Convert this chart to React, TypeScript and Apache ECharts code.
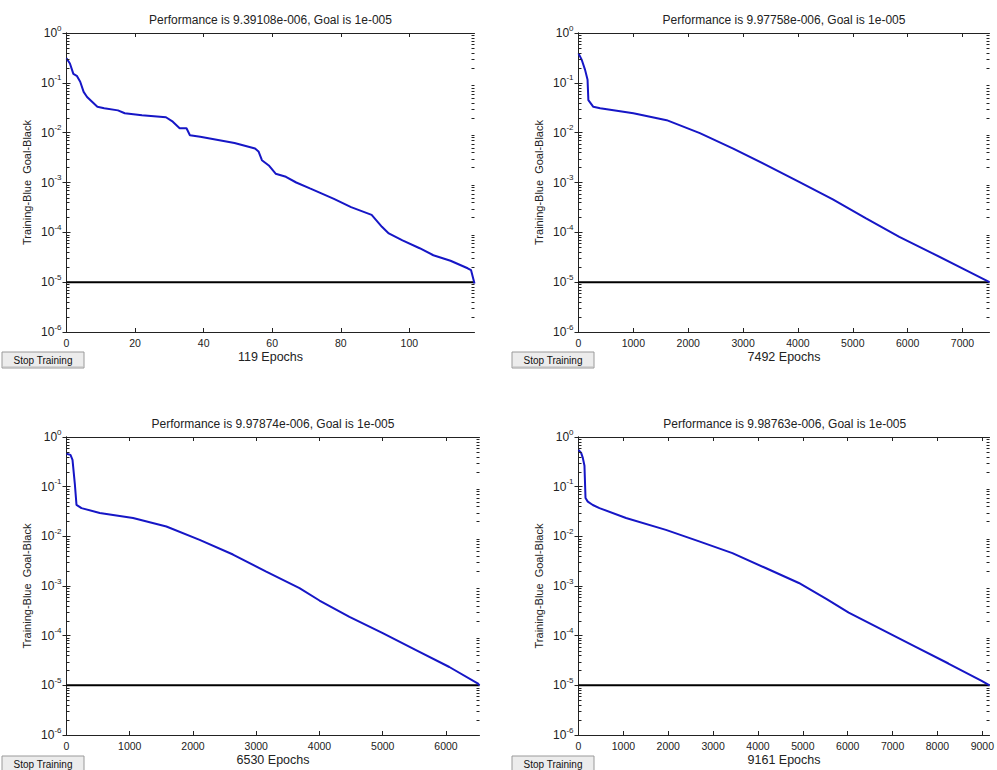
import React, { useEffect, useRef } from "react";
import * as echarts from "echarts";

// ---- data ----
const epochs1 = [0, 1, 2, 3, 4, 5, 6, 9, 11, 15, 17, 22, 29, 31, 33, 35, 36, 39, 49, 55, 56, 57, 59, 61, 64, 67, 71, 74, 78, 83, 89, 92, 94, 98, 103, 107, 112, 117, 118, 119];
const perf1 = [0.31, 0.245, 0.151, 0.138, 0.105, 0.066, 0.052, 0.033, 0.031, 0.028, 0.0245, 0.0224, 0.0204, 0.0166, 0.0123, 0.0123, 0.0089, 0.0083, 0.0062, 0.0048, 0.0042, 0.0028, 0.0022, 0.0015, 0.0013, 0.001, 0.00076, 0.00062, 0.00047, 0.00032, 0.000224, 0.000129, 0.000095, 0.000069, 0.000048, 0.0000347, 0.0000269, 0.000019, 0.0000174, 9.39108e-6];

const epochs2 = [0, 60, 120, 165, 180, 270, 395, 1000, 1607, 2212, 2820, 3425, 4030, 4636, 5242, 5848, 6454, 7060, 7492];
const perf2 = [0.39, 0.288, 0.182, 0.115, 0.045, 0.033, 0.031, 0.0245, 0.0178, 0.0098, 0.0048, 0.00224, 0.00102, 0.000457, 0.00019, 0.0000813, 0.000038, 0.0000174, 9.97758e-6];

const epochs3 = [0, 63, 95, 131, 158, 237, 526, 1052, 1579, 2105, 2632, 3158, 3684, 4000, 4474, 5000, 5526, 6053, 6500, 6530];
const perf3 = [0.46, 0.436, 0.347, 0.117, 0.043, 0.037, 0.0295, 0.0234, 0.0158, 0.0085, 0.0043, 0.00195, 0.00091, 0.00051, 0.00024, 0.000112, 0.0000513, 0.0000234, 0.000011, 9.97874e-6];

const epochs4 = [0, 59, 96, 133, 156, 207, 319, 467, 1059, 1948, 2689, 3430, 4170, 4911, 5541, 6022, 6763, 7504, 8244, 8985, 9161];
const perf4 = [0.55, 0.48, 0.38, 0.263, 0.059, 0.05, 0.0427, 0.037, 0.0234, 0.0135, 0.0079, 0.0046, 0.0023, 0.00115, 0.00054, 0.00029, 0.000132, 0.00006, 0.0000275, 0.0000123, 9.98763e-6];

const xTicks1 = [0, 20, 40, 60, 80, 100];
const xTicks2 = [0, 1000, 2000, 3000, 4000, 5000, 6000, 7000];
const xTicks3 = [0, 1000, 2000, 3000, 4000, 5000, 6000];
const xTicks4 = [0, 1000, 2000, 3000, 4000, 5000, 6000, 7000, 8000, 9000];

const maxEpochs = [119, 7492, 6530, 9161];
const titles = [
  "Performance is 9.39108e-006, Goal is 1e-005",
  "Performance is 9.97758e-006, Goal is 1e-005",
  "Performance is 9.97874e-006, Goal is 1e-005",
  "Performance is 9.98763e-006, Goal is 1e-005",
];
const xNames = ["119 Epochs", "7492 Epochs", "6530 Epochs", "9161 Epochs"];
const yName = "Training-Blue  Goal-Black";
const goal = 1e-5;
const decadeExps = [-6, -5, -4, -3, -2, -1];
const minorMults = [2, 3, 4, 5, 6, 7, 8, 9];
const buttonText = "Stop Training";

const FONT = "'Liberation Sans', Arial, sans-serif";
const NARROW = "'Liberation Sans Narrow', 'Arial Narrow', 'Liberation Sans', sans-serif";

// panel layout (pixels)
const grids = [
  { left: 66.5, top: 33, width: 408, height: 299 },
  { left: 578.5, top: 33, width: 411, height: 299 },
  { left: 66.5, top: 437, width: 413, height: 298 },
  { left: 578.5, top: 437, width: 412.5, height: 298 },
];
const buttons = [
  { x: 2, y: 352 },
  { x: 512, y: 352 },
  { x: 2, y: 756 },
  { x: 512, y: 756 },
];

export default function App() {
  const ref = useRef<HTMLDivElement>(null);
  useEffect(() => {
    document.body.style.margin = "0";
    if (!ref.current) return;
    const chart = echarts.init(ref.current, null, { renderer: "svg" });

    const panels = [
      { ep: epochs1, pf: perf1, ticks: xTicks1 },
      { ep: epochs2, pf: perf2, ticks: xTicks2 },
      { ep: epochs3, pf: perf3, ticks: xTicks3 },
      { ep: epochs4, pf: perf4, ticks: xTicks4 },
    ];
    const minorVals: number[] = [];
    decadeExps.forEach((d) => minorMults.forEach((m) => minorVals.push(m * Math.pow(10, d))));

    const xAxis: any[] = [];
    const yAxis: any[] = [];
    const series: any[] = [];
    const graphic: any[] = [];

    const axisLine = { show: true, lineStyle: { color: "#222", width: 1 } };

    panels.forEach((p, i) => {
      const N = maxEpochs[i];
      const g = grids[i];
      xAxis.push({
        type: "value",
        gridIndex: i,
        position: "bottom",
        min: 0,
        max: N,
        name: xNames[i],
        nameLocation: "middle",
        nameGap: 18,
        nameTextStyle: { fontFamily: FONT, fontSize: 12.5, color: "#222" },
        splitLine: { show: false },
        axisLine,
        axisTick: { show: true, inside: true, length: 4, customValues: p.ticks, lineStyle: { color: "#222" } },
        axisLabel: {
          show: true,
          customValues: p.ticks,
          margin: 5,
          formatter: (v: number) => String(v),
          fontFamily: FONT,
          fontSize: 10.5,
          color: "#222",
        },
      });
      xAxis.push({
        type: "value",
        gridIndex: i,
        position: "top",
        min: 0,
        max: N,
        splitLine: { show: false },
        axisLine,
        axisTick: { show: true, inside: true, length: 4, customValues: p.ticks, lineStyle: { color: "#222" } },
        axisLabel: { show: false },
      });
      const baseY = {
        type: "log",
        gridIndex: i,
        min: 1e-6,
        max: 1,
        logBase: 10,
        splitLine: { show: false },
        axisLine,
      };
      yAxis.push({
        ...baseY,
        position: "left",
        name: yName,
        nameLocation: "middle",
        nameGap: 34,
        nameTextStyle: { fontFamily: FONT, fontSize: 11, color: "#222" },
        axisTick: { show: true, inside: true, length: 4, lineStyle: { color: "#222" } },
        axisLabel: {
          show: true,
          margin: 5,
          formatter: (v: number) => `{a|10}{b|${Math.round(Math.log10(v))}}`,
          rich: {
            a: { fontFamily: FONT, fontSize: 12, color: "#222", lineHeight: 18, verticalAlign: "middle" },
            b: { fontFamily: FONT, fontSize: 8, color: "#222", lineHeight: 8, verticalAlign: "top" },
          },
        },
      });
      yAxis.push({
        ...baseY,
        position: "right",
        axisTick: { show: true, inside: true, length: 4, lineStyle: { color: "#222" } },
        axisLabel: { show: false },
      });

      // goal line
      series.push({
        type: "line",
        xAxisIndex: 2 * i,
        yAxisIndex: 2 * i,
        data: [[0, goal], [N, goal]],
        showSymbol: false,
        symbol: "none",
        lineStyle: { color: "#000", width: 2 },
        silent: true,
        z: 2,
      });
      // training curve
      series.push({
        type: "line",
        xAxisIndex: 2 * i,
        yAxisIndex: 2 * i,
        data: p.ep.map((e, k) => [e, p.pf[k]]),
        showSymbol: false,
        symbol: "none",
        lineStyle: { color: "#1616c6", width: 2 },
        silent: true,
        z: 3,
      });

      graphic.push({
        type: "text",
        x: g.left + g.width / 2,
        y: g.top - 13,
        style: { text: titles[i], fontFamily: NARROW, fontSize: 12, fill: "#222", textAlign: "center", textVerticalAlign: "middle" },
      });
      const b = buttons[i];
      graphic.push({
        type: "group",
        x: b.x,
        y: b.y,
        children: [
          { type: "rect", shape: { x: 0, y: 0, width: 82, height: 16 }, style: { fill: "#ececec", stroke: "#9a9a9a", lineWidth: 1 } },
          { type: "line", shape: { x1: 1, y1: 15, x2: 81, y2: 15 }, style: { stroke: "#bdbdbd", lineWidth: 1 } },
          { type: "text", x: 41, y: 8, style: { text: buttonText, fontFamily: FONT, fontSize: 10, fill: "#111", textAlign: "center", textVerticalAlign: "middle" } },
        ],
      });
    });

    chart.setOption({
      animation: false,
      backgroundColor: "#fff",
      grid: grids.map((g) => ({ ...g, containLabel: false })),
      xAxis,
      yAxis,
      series,
    });

    // minor log ticks on left & right edges, positioned through the axes' own scales
    panels.forEach((p, i) => {
      const N = maxEpochs[i];
      minorVals.forEach((v) => {
        const l = chart.convertToPixel({ xAxisIndex: 2 * i, yAxisIndex: 2 * i }, [0, v]) as number[];
        const r = chart.convertToPixel({ xAxisIndex: 2 * i, yAxisIndex: 2 * i }, [N, v]) as number[];
        if (!l || !r) return;
        const y = Math.round(l[1]) + 0.5;
        graphic.push({
          type: "line",
          silent: true,
          z: 10,
          shape: { x1: l[0], y1: y, x2: l[0] + 3, y2: y },
          style: { stroke: "#222", lineWidth: 1 },
        });
        graphic.push({
          type: "line",
          silent: true,
          z: 10,
          shape: { x1: r[0] - 3, y1: y, x2: r[0], y2: y },
          style: { stroke: "#222", lineWidth: 1 },
        });
      });
    });

    chart.setOption({ graphic });
    return () => chart.dispose();
  }, []);
  return <div ref={ref} style={{ width: 997, height: 770 }} />;
}
